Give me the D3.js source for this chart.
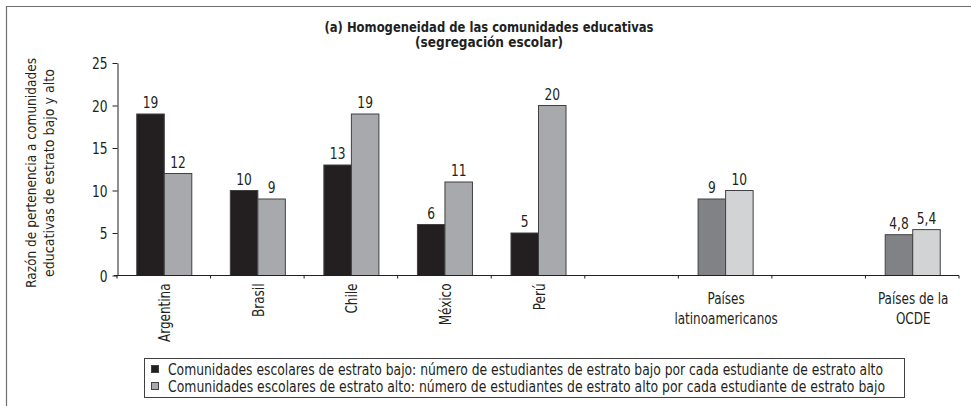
<!DOCTYPE html>
<html>
<head>
<meta charset="utf-8">
<script src="https://cdn.jsdelivr.net/npm/d3@7"></script>
<style>
  body { margin: 0; background: #fff; }
  svg text { font-family: "DejaVu Sans Condensed", "Liberation Sans Narrow", "Roboto", sans-serif; fill: #231f20; }
</style>
</head>
<body>
<script>
// chart data
const categories = ["Argentina", "Brasil", "Chile", "México", "Perú", "gap1", "Países latinoamericanos", "gap2", "Países de la OCDE"];
const categoryLines = [["Argentina"], ["Brasil"], ["Chile"], ["México"], ["Perú"], [], ["Países", "latinoamericanos"], [], ["Países de la", "OCDE"]];
const rotatedLabel = [true, true, true, true, true, false, false, false, false];
const aggregate = [false, false, false, false, false, false, true, false, true];
const bajo = [19, 10, 13, 6, 5, null, 9, null, 4.8];
const alto = [12, 9, 19, 11, 20, null, 10, null, 5.4];
const yTicks = [0, 5, 10, 15, 20, 25];
const seriesNames = [
  "Comunidades escolares de estrato bajo: número de estudiantes de estrato bajo por cada estudiante de estrato alto",
  "Comunidades escolares de estrato alto: número de estudiantes de estrato alto por cada estudiante de estrato bajo"
];
const titleLines = ["(a) Homogeneidad de las comunidades educativas", "(segregación escolar)"];
const yLabelLines = ["Razón de pertenencia a comunidades", "educativas de estrato bajo y alto"];

// squeeze text horizontally so it looks like the condensed face of the original
function condense(sel, factor){
    sel.each(function(){
        const len = this.getComputedTextLength();
        d3.select(this)
            .attr('textLength', len * factor)
            .attr('lengthAdjust', 'spacingAndGlyphs');
    });
}

function main(){
    const width = 971, height = 406;
    const svg = d3.select('body').append('svg')
        .attr('width', width)
        .attr('height', height);

    // outer frame (top + left)
    svg.append('path')
        .attr('d', `M6.5,${height} V6.5 H${width}`)
        .attr('fill', 'none')
        .attr('stroke', '#6d6e71')
        .attr('stroke-width', 1.2);

    const x = d3.scaleBand()
        .domain(categories)
        .range([117, 959]);
    const xInner = d3.scaleBand()
        .domain(['bajo', 'alto'])
        .range([0, x.bandwidth()])
        .paddingOuter(0.7);
    const y = d3.scaleLinear()
        .domain([0, 25])
        .range([275.5, 63]);

    // title
    const titleW = [329, 148];
    svg.append('g').selectAll('text')
        .data(titleLines)
        .enter().append('text')
        .attr('x', 489)
        .attr('y', (d, i) => 32 + i * 15)
        .attr('text-anchor', 'middle')
        .style('font-weight', 'bold')
        .style('font-size', '14px')
        .attr('textLength', (d, i) => titleW[i])
        .attr('lengthAdjust', 'spacingAndGlyphs')
        .text(d => d);

    // y axis
    const yAxis = d3.axisLeft(y).tickValues(yTicks).tickSize(5).tickPadding(5).tickSizeOuter(0);
    const gy = svg.append('g')
        .attr('transform', 'translate(117.5,0)')
        .call(yAxis);
    gy.selectAll('text').style('font-size', '16px').attr('fill', '#231f20').attr('dy', '0.36em');
    gy.selectAll('line, path').attr('stroke', '#231f20');
    condense(gy.selectAll('text'), 0.85);

    // y label
    const yLabW = [230, 208];
    svg.append('g').selectAll('text')
        .data(yLabelLines)
        .enter().append('text')
        .attr('transform', (d, i) => `translate(${36 + i * 18},173) rotate(-90)`)
        .attr('text-anchor', 'middle')
        .style('font-size', '14.5px')
        .attr('textLength', (d, i) => yLabW[i])
        .attr('lengthAdjust', 'spacingAndGlyphs')
        .text(d => d);

    // bars
    const bars = [];
    categories.forEach((c, i) => {
        if (bajo[i] != null) bars.push({cat: c, key: 'bajo', v: bajo[i], agg: aggregate[i]});
        if (alto[i] != null) bars.push({cat: c, key: 'alto', v: alto[i], agg: aggregate[i]});
    });
    const fillOf = d => d.agg ? (d.key === 'bajo' ? '#808285' : '#d1d3d4') : (d.key === 'bajo' ? '#231f20' : '#a7a9ac');

    svg.selectAll('.bar')
        .data(bars)
        .enter()
        .append('rect')
        .attr('class', 'bar')
        .attr('x', d => x(d.cat) + xInner(d.key) + 0.5)
        .attr('y', d => y(d.v))
        .attr('width', xInner.bandwidth())
        .attr('height', d => y(0) - y(d.v))
        .attr('fill', fillOf)
        .attr('stroke', '#414042')
        .attr('stroke-width', 1);

    // value labels
    const vals = svg.selectAll('.val')
        .data(bars)
        .enter()
        .append('text')
        .attr('class', 'val')
        .attr('x', d => x(d.cat) + xInner(d.key) + xInner.bandwidth() / 2 + 0.5)
        .attr('y', d => y(d.v) - 6)
        .attr('text-anchor', 'middle')
        .style('font-size', '16px')
        .text(d => String(d.v).replace('.', ','));
    condense(vals, 0.85);

    // x axis line + boundary ticks
    svg.append('line')
        .attr('x1', 114).attr('x2', 959)
        .attr('y1', y(0)).attr('y2', y(0))
        .attr('stroke', '#231f20');
    const bounds = categories.map(c => x(c)).concat([x.range()[1]]);
    svg.selectAll('.xtick')
        .data(bounds)
        .enter().append('line')
        .attr('x1', d => d).attr('x2', d => d)
        .attr('y1', y(0)).attr('y2', y(0) + 3)
        .attr('stroke', '#231f20');

    // category labels
    const catG = svg.append('g');
    categories.forEach((c, i) => {
        const cx = x(c) + x.bandwidth() / 2 + 1;
        if (categoryLines[i].length === 0) return;
        if (rotatedLabel[i]) {
            catG.append('text')
                .attr('transform', `translate(${cx},${y(0) + 8}) rotate(-90)`)
                .attr('text-anchor', 'end')
                .attr('dy', '0.36em')
                .style('font-size', '15.5px')
                .text(categoryLines[i][0]);
        } else {
            categoryLines[i].forEach((line, j) => {
                catG.append('text')
                    .attr('x', cx)
                    .attr('y', 304 + j * 20)
                    .attr('text-anchor', 'middle')
                    .style('font-size', '15.5px')
                    .text(line);
            });
        }
    });
    condense(catG.selectAll('text'), 0.86);

    // legend
    const legend = svg.append('g');
    legend.append('rect')
        .attr('x', 144.5).attr('y', 358.5)
        .attr('width', 760).attr('height', 39)
        .attr('fill', 'none')
        .attr('stroke', '#414042');
    const legendFill = ['#231f20', '#a7a9ac'];
    const legendW = [715, 717];
    seriesNames.forEach((s, i) => {
        legend.append('rect')
            .attr('x', 151.5).attr('y', 365.5 + i * 17)
            .attr('width', 7).attr('height', 7)
            .attr('fill', legendFill[i])
            .attr('stroke', '#414042');
        legend.append('text')
            .attr('x', 168).attr('y', 374.5 + i * 17)
            .style('font-size', '15px')
            .attr('textLength', legendW[i])
            .attr('lengthAdjust', 'spacingAndGlyphs')
            .text(s);
    });
}
main();
</script>
</body>
</html>
